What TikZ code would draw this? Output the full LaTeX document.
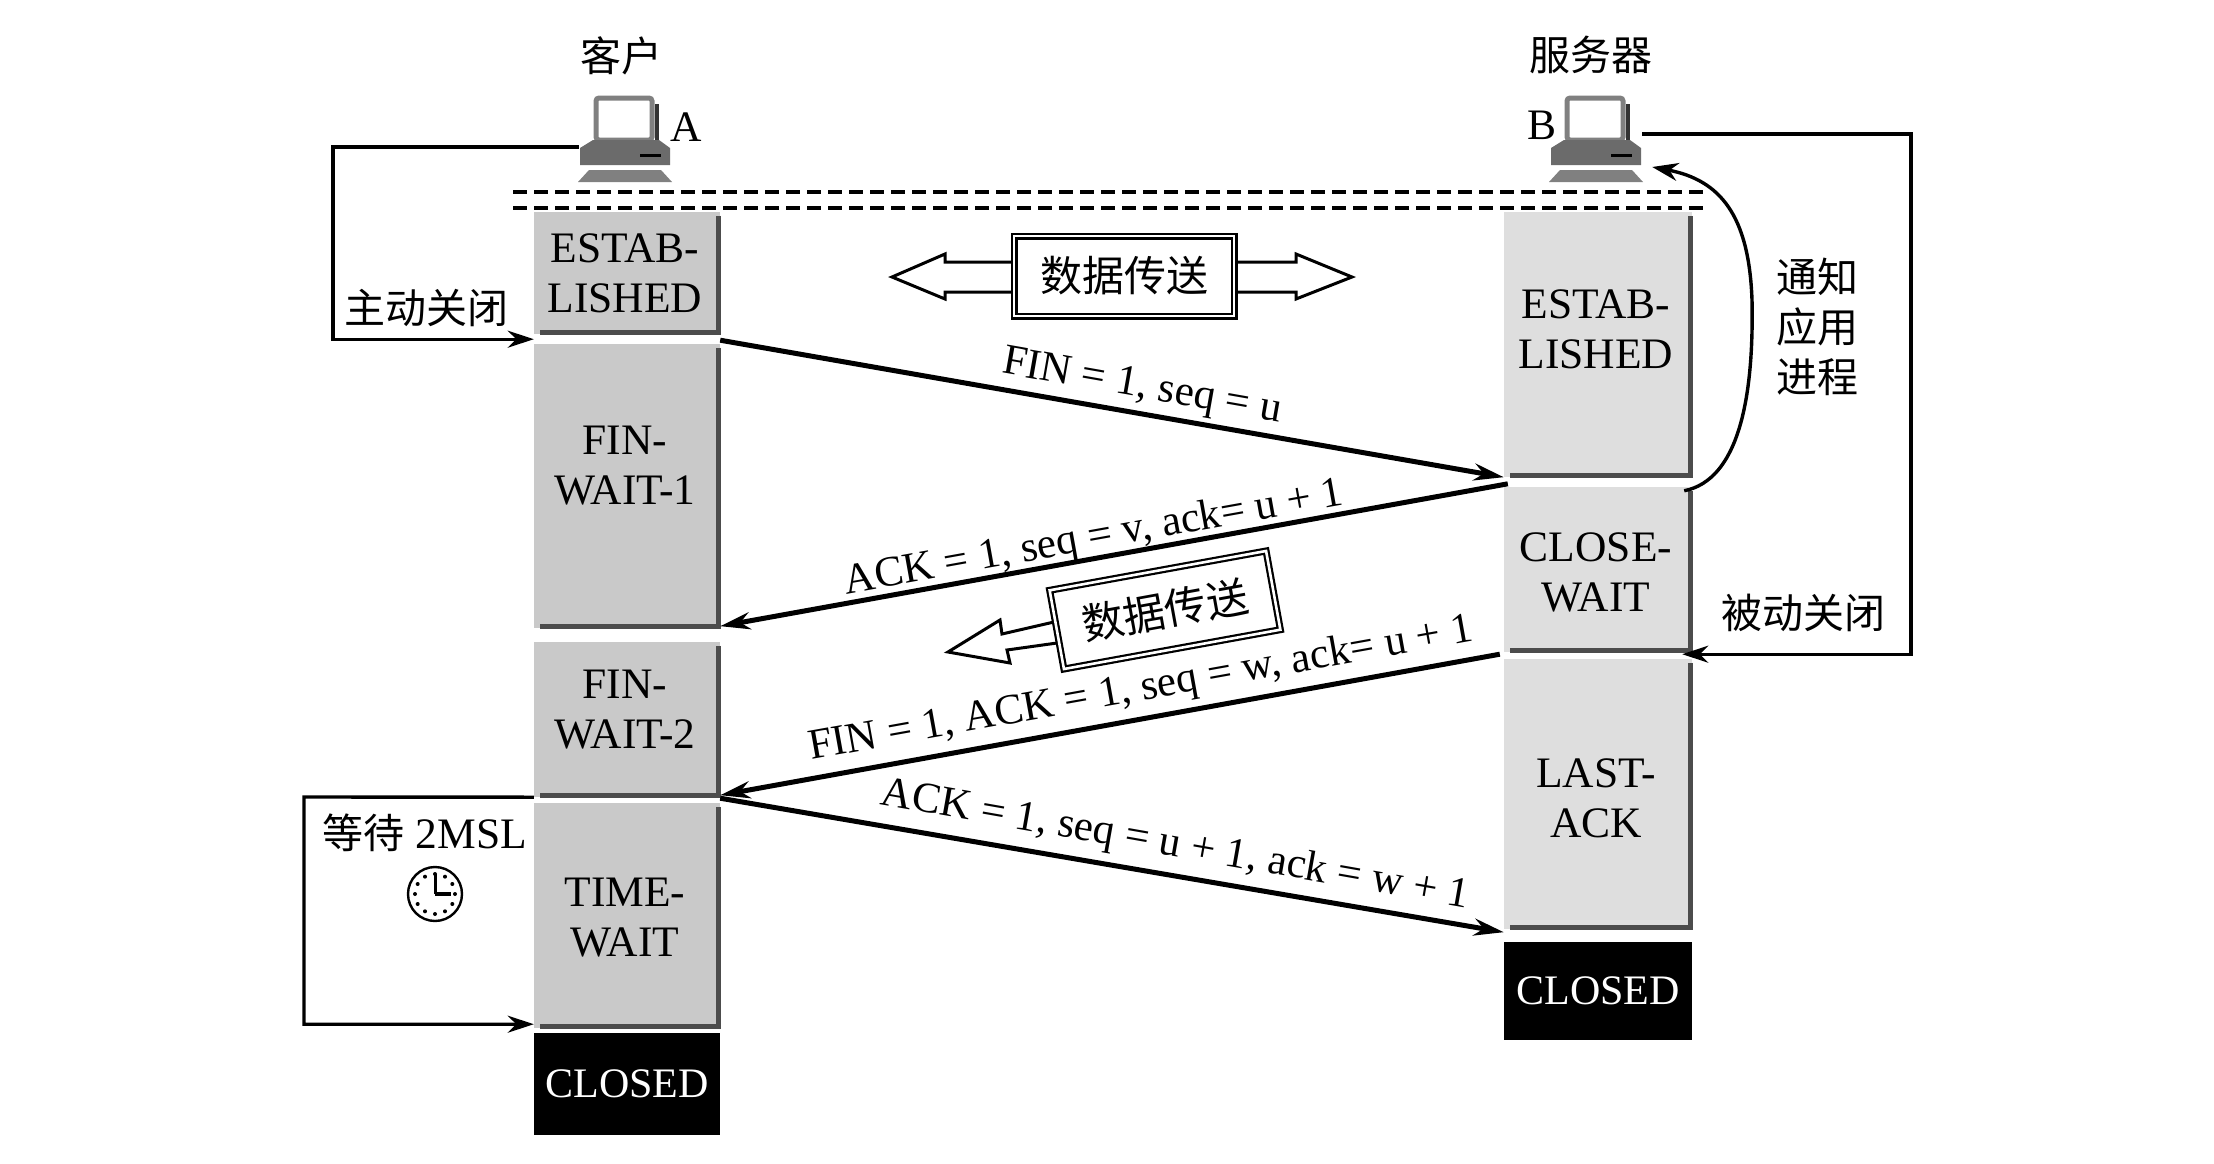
\documentclass[tikz,border=0pt]{standalone}
\usepackage{fontspec}
\setmainfont{Liberation Serif}
\newfontfamily\cjk{Noto Sans CJK SC}
\usetikzlibrary{arrows.meta,calc}
\tikzset{
  x=1pt,y=-1pt,
  latin/.style={font=\fontsize{43.5}{50}\selectfont,align=center,inner sep=0pt},
  seglabel/.style={font=\fontsize{43}{50}\selectfont,align=center,inner sep=0pt},
  zh/.style={font=\cjk\fontsize{41}{50}\selectfont,align=center,inner sep=0pt},
  stateL/.style={fill=black!21,inner sep=0pt},
  stateR/.style={fill=black!13,inner sep=0pt},
  closedbox/.style={fill=black,text=white,inner sep=0pt,font=\fontsize{42}{50}\selectfont},
  edgeshadow/.style={draw=black!70,line width=5pt},
  segment/.style={line width=5pt,-{Stealth[length=30pt,width=17pt]},shorten >=0pt},
  thinline/.style={line width=3.4pt,-{Stealth[length=26pt,width=17pt]}},
  sepline/.style={line width=3.2pt,dash pattern=on 14pt off 7pt},
  framed/.style={draw,line width=2.2pt,double,double distance=2.6pt,fill=white,inner sep=0pt,
    minimum width=220pt,minimum height=80pt},
  blockarrow/.style={draw,line width=3pt,fill=white,line join=miter},
  computer/.pic={
    \filldraw[draw=black!50,fill=white,line width=5pt,rounded corners=3pt] (-29,-42) rectangle (27,0);
    \draw[line width=3.5pt,draw=black!80] (32,-36) -- (32,0);
    \fill[black!58] (-45,25) -- (-45,8) -- (-32,0) -- (34,0) -- (45,8) -- (45,25) -- cycle;
    \draw[line width=3pt] (15,15) -- (36,15);
    \fill[black!50] (-36,30) -- (36,30) -- (47,42) -- (-47,42) -- cycle;
  },
}
\begin{document}
\begin{tikzpicture}
\useasboundingbox (0,0) rectangle (2214,1164);

% host captions and icons
\node[zh] (capA) at (621,56) {客户};
\node[zh] (capB) at (1591,55) {服务器};
\pic at (625,140) {computer};
\pic at (1596,140) {computer};
\node[minimum width=92pt,minimum height=88pt,inner sep=0pt] (pcA) at (625,140) {};
\node[minimum width=92pt,minimum height=88pt,inner sep=0pt] (pcB) at (1596,140) {};
\node[latin] (lblA) at (686,127) {A};
\node[latin] (lblB) at (1542,125) {B};

% double separator under the hosts
\coordinate (sepAL) at (513,192);
\coordinate (sepAR) at (1704,192);
\coordinate (sepBL) at (513,208);
\coordinate (sepBR) at (1704,208);
\draw[sepline] (sepAL) -- (sepAR);
\draw[sepline] (sepBL) -- (sepBR);

% client states
\node[stateL,minimum width=186pt,minimum height=122pt] (estabL) at (627,273) {};
\node[stateL,minimum width=186pt,minimum height=284pt] (finOne) at (627,486) {};
\node[stateL,minimum width=186pt,minimum height=155pt] (finTwo) at (627,719.5) {};
\node[stateL,minimum width=186pt,minimum height=225pt] (timeW) at (627,915.5) {};
\node[closedbox,minimum width=186pt,minimum height=102pt] (closedL) at (627,1084) {CLOSED};

% server states
\node[stateR,minimum width=188pt,minimum height=265pt] (estabR) at (1598,344.5) {};
\node[stateR,minimum width=188pt,minimum height=165pt] (closeW) at (1598,569.5) {};
\node[stateR,minimum width=188pt,minimum height=270pt] (lastA) at (1598,794) {};
\node[closedbox,minimum width=188pt,minimum height=98pt] (closedR) at (1598,991) {CLOSED};

% dark right and bottom edges of the state blocks
\foreach \n in {estabL,finOne,finTwo,timeW,estabR,closeW,lastA}
  \draw[edgeshadow] ([shift={(-2pt,-4pt)}]\n.north east) -- ([shift={(-2pt,2pt)}]\n.south east) -- ([shift={(6pt,2pt)}]\n.south west);

% state names
\node[latin] (tEstabL) at (625,273) {ESTAB-\\LISHED};
\node[latin] (tFinOne) at (625,466) {FIN-\\WAIT-1};
\node[latin] (tFinTwo) at (625,710) {FIN-\\WAIT-2};
\node[latin] (tTime) at (625,918) {TIME-\\WAIT};
\node[latin] (tEstabR) at (1596,329) {ESTAB-\\LISHED};
\node[latin] (tClose) at (1596,572) {CLOSE-\\WAIT};
\node[latin] (tLast) at (1596,798) {LAST-\\ACK};

% segments between the two hosts
\draw[segment] ([yshift=-6pt]estabL.south east) -- (estabR.south west);
\draw[segment] ([shift={(4pt,3pt)}]closeW.north west) -- ([yshift=2pt]finOne.south east);
\draw[segment] ([xshift=-4pt,yshift=-2pt]closeW.south west) -- ([yshift=2pt]finTwo.south east);
\draw[segment] ([yshift=-1pt]finTwo.south east) -- ([yshift=-3pt]lastA.south west);

\node[seglabel,rotate=-10] (segOne) at (1142,388) {FIN = 1, seq = u};
\node[seglabel,rotate=10.2] (segTwo) at (1094,539) {ACK = 1, seq = v, ack= u + 1};
\node[seglabel,rotate=10.2] (segThree) at (1141,690) {FIN = 1, ACK = 1, seq = w, ack= u + 1};
\node[seglabel,rotate=-10] (segFour) at (1175,846) {ACK = 1, seq = u + 1, ack = w + 1};

% data transfer, both directions
\draw[blockarrow] (1012,262) -- (945,262) -- (945,254) -- (892,277) -- (945,299) -- (945,292) -- (1012,292);
\draw[blockarrow] (1236,262) -- (1296,262) -- (1296,254) -- (1352,277) -- (1296,299) -- (1296,292) -- (1236,292);
\node[framed] (dataBoth) at (1124,276) {\cjk\fontsize{42}{44}\selectfont 数据传送};

% data transfer, server to client
\draw[blockarrow] (1054,622) -- (1002,634) -- (1000,620) -- (948,652) -- (1010,663) -- (1007,650) -- (1057,643);
\node[framed,rotate=10.3] (dataOne) at (1165,610) {\cjk\fontsize{42}{44}\selectfont 数据传送};

% transitions at the client
\coordinate (activeCorner) at (333,147);
\draw[thinline] ([yshift=-7pt]pcA.west) -- (activeCorner) |- ([yshift=-5pt]estabL.south west);
\node[zh] (activeLbl) at (426,308) {主动关闭};

\coordinate (waitCornerT) at (304,797);
\draw[thinline] (finTwo.south west) -- (waitCornerT) |- ([yshift=4pt]timeW.south west);
\node[latin] (waitLbl) at (425,833) {{\cjk\fontsize{41}{50}\selectfont 等待} 2MSL};

% clock face
\node[circle,draw,line width=2.4pt,minimum size=54pt,inner sep=0pt] (clock) at (435,894) {};
\foreach \a in {0,30,...,330}
  \fill (clock.center) ++(\a:20pt) circle (2pt);
\draw[line width=3pt] (clock.center) -- ++(0pt,20pt);
\draw[line width=3.6pt] (clock.center) -- ++(16pt,0pt);

% transitions at the server
\coordinate (passiveCorner) at (1911,134);
\draw[thinline] ([yshift=6pt]pcB.east) -- (passiveCorner) |- ([xshift=-10pt,yshift=-2pt]closeW.south east);
\node[zh] (passiveLbl) at (1803,613) {被动关闭};

\draw[line width=3.4pt,-{Stealth[length=26pt,width=18pt]}] ([shift={(-8pt,-4pt)}]closeW.north east)
  .. controls (1738,480) and (1754,400) .. (1752,300)
  .. controls (1749,215) and (1720,180) .. ([shift={(10pt,-27pt)}]pcB.east);
\node[zh] (notifyLbl) at (1817,327) {通知\\应用\\进程};
\end{tikzpicture}
\end{document}
